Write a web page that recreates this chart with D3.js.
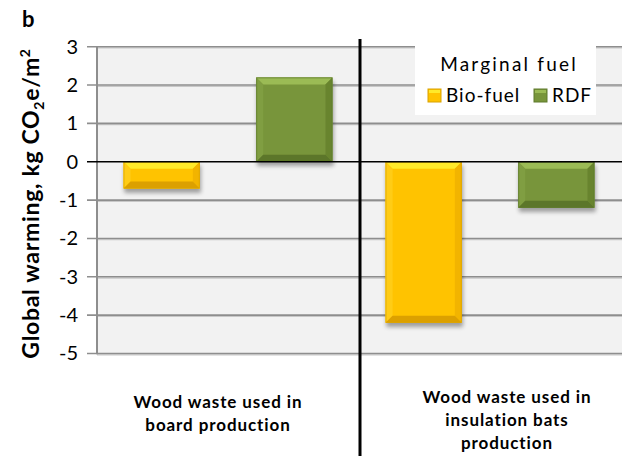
<!DOCTYPE html>
<html>
<head>
<meta charset="utf-8">
<script src="https://cdn.jsdelivr.net/npm/d3@7"></script>
<style>
  html, body { margin: 0; padding: 0; background: #ffffff; }
  svg { display: block; }
  text { font-family: Lato, "Open Sans", sans-serif; fill: #000; }
</style>
</head>
<body>
<svg id="chart" width="622" height="456"></svg>
<script>
// Global warming potential per m², by wood-waste use and marginal fuel
const categoryLines = [
  ["Wood waste used in", "board production"],
  ["Wood waste used in", "insulation bats", "production"]
];
const seriesNames = ["Bio-fuel", "RDF"];
const bioFuel = [-0.7, -4.2];
const rdf = [2.2, -1.2];
const yTicks = [3, 2, 1, 0, -1, -2, -3, -4, -5];

const seriesValues = [bioFuel, rdf];
const palette = {
  "Bio-fuel": { base: "#ffc300", top: "#ffea2a", left: "#ffcc12", right: "#f2b400", bottom: "#dca000", edge: "#d9a200" },
  "RDF":      { base: "#78953b", top: "#9bbb55", left: "#809e42", right: "#68842f", bottom: "#5b7629", edge: "#5f7a2c" }
};

const svg = d3.select("#chart");
const W = 622, H = 456;
const plot = { left: 97, right: 621, top: 46.7, bottom: 353.5 };

const x0 = d3.scaleBand()
  .domain(d3.range(categoryLines.length))
  .range([plot.left, plot.right])
  .padding(0);

const x1 = d3.scaleBand()
  .domain(seriesNames)
  .range([0, x0.bandwidth()])
  .paddingInner(0.425)
  .paddingOuter(0.2);

const y = d3.scaleLinear().domain([-5, 3]).range([plot.bottom, plot.top]);

// soft drop shadow under each bar
const defs = svg.append("defs");
const shadow = defs.append("filter").attr("id", "barShadow")
  .attr("x", "-20%").attr("y", "-20%").attr("width", "140%").attr("height", "160%");
shadow.append("feGaussianBlur").attr("in", "SourceAlpha").attr("stdDeviation", 2.2).attr("result", "blur");
shadow.append("feOffset").attr("in", "blur").attr("dx", 1).attr("dy", 4).attr("result", "off");
shadow.append("feComponentTransfer").attr("in", "off").attr("result", "soft")
  .append("feFuncA").attr("type", "linear").attr("slope", 0.35);
const merge = shadow.append("feMerge");
merge.append("feMergeNode").attr("in", "soft");
merge.append("feMergeNode").attr("in", "SourceGraphic");

// plot background
svg.append("rect")
  .attr("x", plot.left).attr("y", plot.top)
  .attr("width", plot.right - plot.left + 1).attr("height", plot.bottom - plot.top)
  .attr("fill", "#f2f2f2");

// gridlines with a soft lower edge
const grid = svg.append("g");
yTicks.filter(t => t !== 0).forEach(t => {
  grid.append("line")
    .attr("x1", plot.left).attr("x2", W)
    .attr("y1", y(t) + 1.3).attr("y2", y(t) + 1.3)
    .attr("stroke", "#c8c8c8").attr("stroke-width", 1.2);
  grid.append("line")
    .attr("x1", plot.left - 10).attr("x2", W)
    .attr("y1", y(t)).attr("y2", y(t))
    .attr("stroke", "#8e8e8e").attr("stroke-width", 1.6);
});

// left axis line
svg.append("line")
  .attr("x1", plot.left).attr("x2", plot.left)
  .attr("y1", plot.top).attr("y2", plot.bottom + 0.8)
  .attr("stroke", "#8e8e8e").attr("stroke-width", 2);

// tick labels through a d3 axis
const yAxis = d3.axisLeft(y).tickValues(yTicks).tickSize(0).tickPadding(19)
  .tickFormat(d => d < 0 ? "-" + Math.abs(d) : String(d));
const yAxisG = svg.append("g")
  .attr("transform", `translate(${plot.left},0)`)
  .call(yAxis);
yAxisG.select(".domain").remove();
yAxisG.selectAll("text")
  .attr("font-family", "Lato, sans-serif")
  .attr("font-size", 20)
  .attr("fill", "#000");

// legend box
const legend = svg.append("g");
legend.append("rect")
  .attr("x", 415).attr("y", 43).attr("width", 181).attr("height", 72)
  .attr("fill", "#ffffff");
legend.append("text")
  .attr("x", 509).attr("y", 71)
  .attr("text-anchor", "middle")
  .attr("font-size", 19).attr("letter-spacing", 2.2)
  .text("Marginal fuel");
const legendX = [428, 534];
seriesNames.forEach((s, i) => {
  const p = palette[s];
  legend.append("rect")
    .attr("x", legendX[i]).attr("y", 89).attr("width", 13).attr("height", 13)
    .attr("fill", p.base).attr("stroke", p.edge).attr("stroke-width", 1);
  legend.append("rect")
    .attr("x", legendX[i] + 1).attr("y", 90).attr("width", 11).attr("height", 3)
    .attr("fill", p.top);
  legend.append("text")
    .attr("x", legendX[i] + 18).attr("y", 102)
    .attr("font-size", 19).attr("letter-spacing", 1)
    .text(s);
});

// bars with bevelled edges
const bars = svg.append("g");
categoryLines.forEach((_, ci) => {
  seriesNames.forEach((s, si) => {
    const v = seriesValues[si][ci];
    const p = palette[s];
    const bx = x0(ci) + x1(s);
    const bw = x1.bandwidth();
    const by = Math.min(y(v), y(0));
    const bh = Math.abs(y(v) - y(0));
    const b = Math.min(7, bh / 3);
    const g = bars.append("g").attr("filter", "url(#barShadow)");
    g.append("rect")
      .attr("x", bx).attr("y", by).attr("width", bw).attr("height", bh)
      .attr("fill", p.base);
    const poly = pts => g.append("polygon").attr("points", pts.map(q => q.join(",")).join(" "));
    poly([[bx, by], [bx + bw, by], [bx + bw - b, by + b], [bx + b, by + b]]).attr("fill", p.top);
    poly([[bx, by], [bx + b, by + b], [bx + b, by + bh - b], [bx, by + bh]]).attr("fill", p.left);
    poly([[bx + bw, by], [bx + bw - b, by + b], [bx + bw - b, by + bh - b], [bx + bw, by + bh]]).attr("fill", p.right);
    poly([[bx, by + bh], [bx + b, by + bh - b], [bx + bw - b, by + bh - b], [bx + bw, by + bh]]).attr("fill", p.bottom);
    g.append("rect")
      .attr("x", bx + 0.5).attr("y", by + 0.5).attr("width", bw - 1).attr("height", bh - 1)
      .attr("fill", "none").attr("stroke", p.edge).attr("stroke-width", 1).attr("stroke-opacity", 0.7);
  });
});

// zero line
svg.append("line")
  .attr("x1", plot.left - 10).attr("x2", W)
  .attr("y1", y(0)).attr("y2", y(0))
  .attr("stroke", "#000").attr("stroke-width", 1.6);

// divider between the two uses
svg.append("line")
  .attr("x1", x0(1) + 1).attr("x2", x0(1) + 1)
  .attr("y1", 39).attr("y2", H)
  .attr("stroke", "#000").attr("stroke-width", 3);

// category labels
const labelShift = [-10, 17];
const lineGap = 23;
categoryLines.forEach((lines, ci) => {
  const cx = x0(ci) + x0.bandwidth() / 2 + labelShift[ci];
  const firstCenter = 412 - lines.length * 5;
  const t = svg.append("text")
    .attr("text-anchor", "middle")
    .attr("font-size", 17).attr("font-weight", 700).attr("letter-spacing", 0.9);
  lines.forEach((ln, li) => {
    t.append("tspan").attr("x", cx).attr("y", firstCenter + li * lineGap + 6).text(ln);
  });
});

// y-axis title
const yt = svg.append("text")
  .attr("transform", `translate(39,${(42 + 365) / 2}) rotate(-90)`)
  .attr("text-anchor", "middle")
  .attr("font-size", 23).attr("font-weight", 700).attr("letter-spacing", 0.7);
yt.append("tspan").text("Global warming,  kg CO");
yt.append("tspan").attr("font-size", 14).attr("dy", 5).text("2");
yt.append("tspan").attr("dy", -5).text("e/m");
yt.append("tspan").attr("font-size", 14).attr("dy", -9).text("2");

// panel letter
svg.append("text")
  .attr("x", 22).attr("y", 27)
  .attr("font-family", "Liberation Serif, Times New Roman, serif")
  .attr("font-size", 22).attr("font-weight", 700)
  .text("b");
</script>
</body>
</html>
